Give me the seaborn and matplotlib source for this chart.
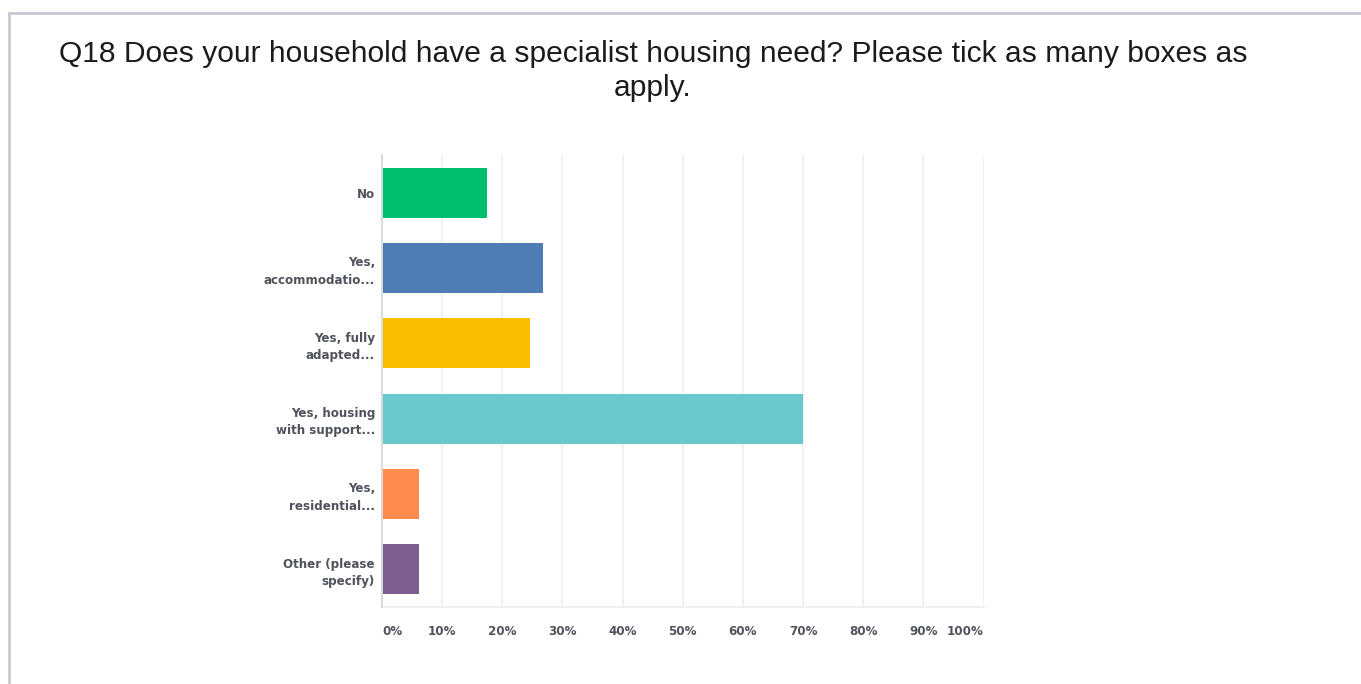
import matplotlib
matplotlib.use("Agg")
import matplotlib.pyplot as plt
from matplotlib.lines import Line2D
import seaborn as sns
import pandas as pd

# Survey answers (share of respondents, %)
categories = [
    "No",
    "Yes,\naccommodatio...",
    "Yes, fully\nadapted...",
    "Yes, housing\nwith support...",
    "Yes,\nresidential...",
    "Other (please\nspecify)",
]
percent = [17.4, 26.7, 24.6, 70.0, 6.2, 6.2]
bar_colors = ["#00BF6F", "#507CB6", "#F9BE00", "#6BC8CD", "#FF8B4F", "#7D5E90"]
tick_values = [0, 10, 20, 30, 40, 50, 60, 70, 80, 90, 100]
tick_labels = [f"{v}%" for v in tick_values]
title = ("Q18 Does your household have a specialist housing need? Please tick as many boxes as\n"
         "apply.")

df = pd.DataFrame({"answer": categories, "percent": percent})

sns.set_theme(style="white")
W, H = 1361, 684
fig = plt.figure(figsize=(W / 100, H / 100), dpi=100)
ax = fig.add_axes([382 / W, (H - 607) / H, (983.5 - 382) / W, (607 - 155) / H])

sns.barplot(data=df, y="answer", x="percent", hue="answer", palette=bar_colors,
            order=categories, hue_order=categories, orient="h", width=0.66,
            saturation=1, legend=False, ax=ax, zorder=3, linewidth=0)

ax.set_xlim(0, 100)
ax.set_ylim(5.5, -0.5)
ax.set_xlabel("")
ax.set_ylabel("")
ax.set_xticks(tick_values)
ax.set_xticklabels(tick_labels)
ax.grid(axis="x", color="#efefef", linewidth=1.2, zorder=0)
ax.grid(axis="y", visible=False)
for side in ("top", "right"):
    ax.spines[side].set_visible(False)
ax.spines["left"].set_color("#dadada")
ax.spines["left"].set_linewidth(1.4)
ax.spines["bottom"].set_color("#ececec")
ax.spines["bottom"].set_linewidth(1.2)
ax.spines["left"].set_zorder(4)

label_color = "#50535c"
ax.tick_params(axis="both", length=0)
ax.tick_params(axis="y", pad=5)
ax.tick_params(axis="x", pad=13)
for t in ax.get_yticklabels():
    t.set_fontfamily("DejaVu Sans")
    t.set_fontweight("bold")
    t.set_fontsize(8.6)
    t.set_color(label_color)
    t.set_linespacing(1.42)
    t.set_ha("right")
xl = ax.get_xticklabels()
for i, t in enumerate(xl):
    t.set_fontfamily("DejaVu Sans")
    t.set_fontweight("bold")
    t.set_fontsize(8.6)
    t.set_color(label_color)
xl[0].set_ha("left")
xl[-1].set_ha("right")

fig.text(653 / W, 1 - 71 / H, title, ha="center", va="center",
         fontfamily="Liberation Sans", fontsize=21.6, color="#1b1b1b",
         linespacing=1.3)

# Panel frame: top and left edges
fig.add_artist(Line2D([9 / W, 1.0], [1 - 12.5 / H, 1 - 12.5 / H],
                      transform=fig.transFigure, color="#c9c9d6", linewidth=2))
fig.add_artist(Line2D([9 / W, 9 / W], [0, 1 - 12.5 / H],
                      transform=fig.transFigure, color="#c9c9d6", linewidth=2))

fig.savefig("out.png", dpi=100, facecolor="white")
